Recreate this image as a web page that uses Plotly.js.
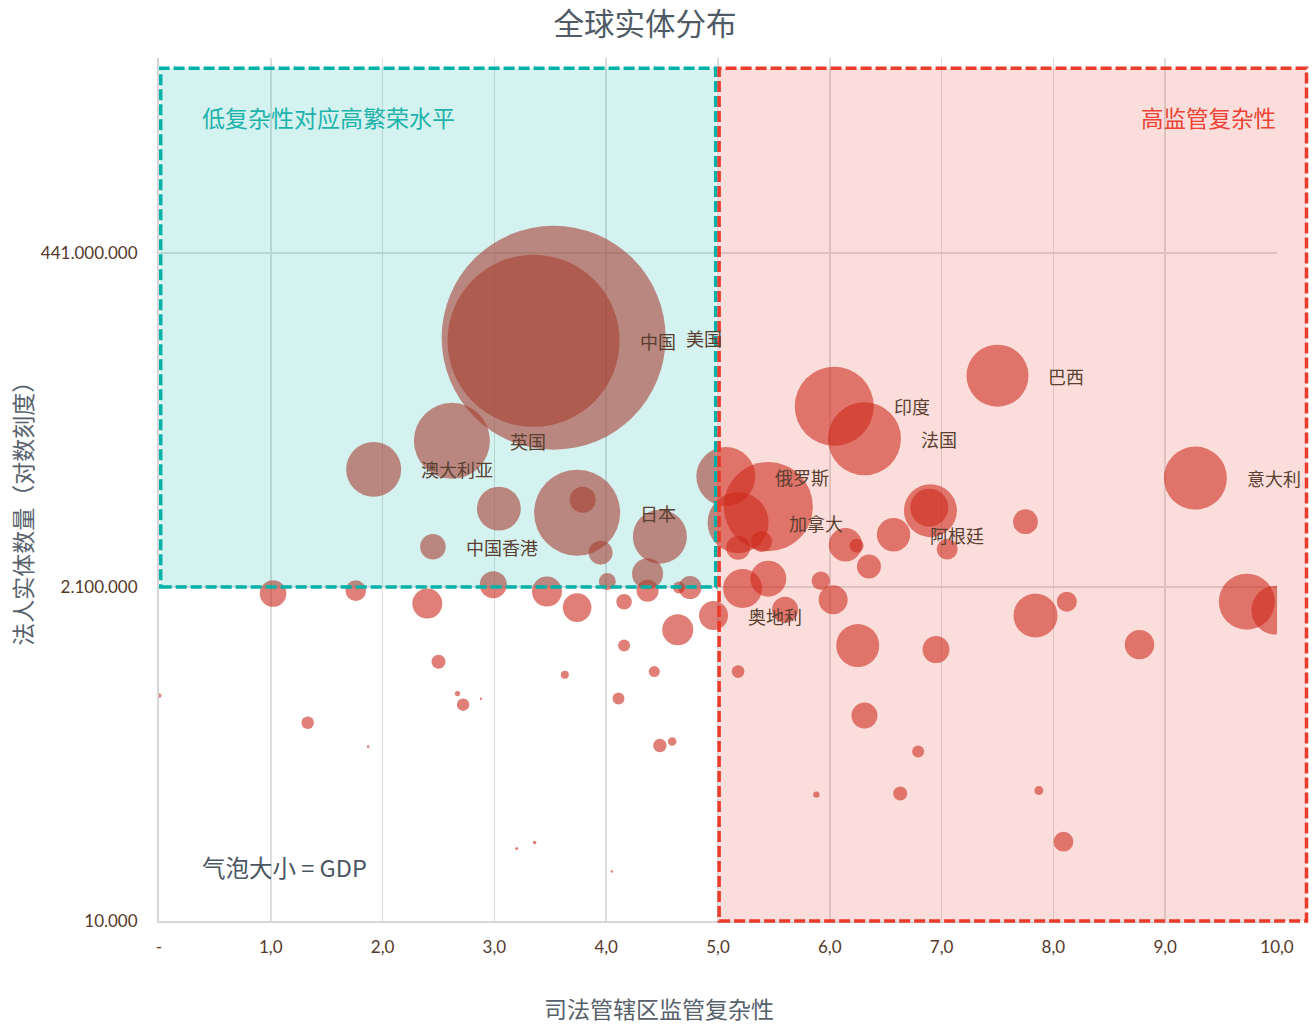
<!DOCTYPE html>
<html>
<head>
<meta charset="utf-8">
<script src="https://cdn.plot.ly/plotly-3.0.1.min.js"></script>
<style>
  html, body { margin: 0; padding: 0; background: #ffffff; }
  #chart { width: 1315px; height: 1025px; }
</style>
</head>
<body>
<div id="chart"></div>
<script>
// ---- data ----
const labels = ['美国','中国','英国','澳大利亚','','日本','','','中国香港','','','','','','','','','','','','','奥地利',
  '俄罗斯','','加拿大','','','','','','阿根廷','','','','','','','','','','','','','','','','','意大利','巴西','印度','法国',
  '','','','','','','','','','','','','','','','','','','','','','','','',''];
const complexity = [3.53,3.35,2.62,1.92,3.04,3.74,3.79,4.48,2.45,3.95,4.37,4.37,4.01,2.99,3.47,3.74,2.40,4.16,4.64,4.65,4.75,4.96,
  5.07,5.45,5.18,5.18,5.39,6.14,6.24,6.35,6.57,6.90,6.89,7.05,7.75,5.45,5.22,5.92,6.03,5.60,6.25,6.95,7.84,8.12,8.77,9.73,9.99,9.27,7.50,6.04,6.31,
  5.18,6.31,6.79,6.63,5.88,7.87,8.09,1.02,1.76,2.50,0.00,2.67,2.72,2.88,1.33,1.87,3.63,4.43,4.11,4.16,4.48,4.59,3.20,3.36,4.05];
const entities = [113500000,108100000,21800000,13800000,7360000,6900000,8490000,4700000,4000000,3640000,2600000,1980000,2290000,2180000,1950000,1510000,1610000,1660000,1060000,2080000,2080000,1330000,
  12300000,7600000,5880000,3940000,4340000,4130000,4070000,2910000,4850000,7130000,7480000,3850000,5970000,2400000,2050000,2320000,1710000,1460000,822000,771000,1330000,1660000,834000,1660000,1450000,12000000,61800000,37900000,22500000,
  542000,268000,151000,77000,75700,80700,35600,1890000,1980000,635000,369000,381000,319000,351000,239000,163000,516000,542000,352000,822000,166000,177000,31900,35100,22100];
const gdp = [21070,12430,2430,1270,810,3110,284,1225,275,242,404,203,121,306,378,344,378,102,404,60,222,353,
  1462,3330,1563,242,185,469,82,242,469,1180,606,185,258,544,639,145,353,284,777,306,813,168,363,1317,1008,1667,1614,2621,2238,
  67,284,60,82,17,34,165,297,178,82,10,12,65,2.4,65,2.8,27,51,60,60,75,31,3.8,5.4,2.4];

const xTickVals = [0,1,2,3,4,5,6,7,8,9,10];
const xTickText = ['-','1,0','2,0','3,0','4,0','5,0','6,0','7,0','8,0','9,0','10,0'];
const yTickVals = [10000, 2100000, 441000000];
const yTickText = ['10.000','2.100.000','441.000.000'];

const sizeRef = 0.84;
const fontFam = 'Lato, "Noto Sans CJK SC", sans-serif';
const cjkFam = '"Noto Sans CJK SC", Lato, sans-serif';

const trace = {
  type: 'scatter',
  mode: 'markers',
  x: complexity,
  y: entities,
  text: labels,
  hoverinfo: 'text',
  marker: {
    size: gdp,
    sizemode: 'area',
    sizeref: sizeRef,
    sizemin: 0,
    color: 'rgba(200,38,24,0.84)',
    line: { width: 0 }
  }
};

// country labels placed to the right of each bubble
const labelAnns = [];
labels.forEach((t, i) => {
  if (!t) return;
  const r = Math.sqrt(2 * gdp[i] / sizeRef) / 2;
  labelAnns.push({
    x: complexity[i], y: Math.log10(entities[i]), xref: 'x', yref: 'y',
    text: t, showarrow: false, xanchor: 'left', yanchor: 'middle',
    xshift: r + 18,
    font: { family: cjkFam, size: 18, color: '#5a3f30' }
  });
});

const otherAnns = [
  { xref: 'paper', yref: 'paper', x: 0.0367, y: 0.9317, xanchor: 'left', yanchor: 'middle', showarrow: false,
    text: '低复杂性对应高繁荣水平', font: { family: cjkFam, size: 23, color: '#1db3ab' } },
  { xref: 'paper', yref: 'paper', x: 1.0009, y: 0.9317, xanchor: 'right', yanchor: 'middle', showarrow: false,
    text: '高监管复杂性', font: { family: cjkFam, size: 22.5, color: '#ec4336' } },
  { xref: 'paper', yref: 'paper', x: 0.0367, y: 0.062, xanchor: 'left', yanchor: 'middle', showarrow: false,
    text: '气泡大小 = GDP', font: { family: cjkFam, size: 23.5, color: '#4a5663' } },
  { xref: 'paper', yref: 'paper', x: 0.447, y: -0.1013, xanchor: 'center', yanchor: 'middle', showarrow: false,
    text: '司法管辖区监管复杂性', font: { family: cjkFam, size: 23, color: '#56616c' } },
  { xref: 'paper', yref: 'paper', x: -0.1225, y: 0.479, xanchor: 'center', yanchor: 'middle', showarrow: false,
    textangle: -90, text: '法人实体数量（对数刻度）', font: { family: cjkFam, size: 23, color: '#56616c' } }
];

const layout = {
  width: 1315, height: 1025,
  margin: { l: 159, r: 38, t: 58, b: 103.5 },
  paper_bgcolor: '#ffffff', plot_bgcolor: '#ffffff',
  showlegend: false,
  font: { family: fontFam, color: '#5a3d2b' },
  title: {
    text: '全球实体分布', xref: 'container', yref: 'container', x: 0.4905, y: 0.976,
    xanchor: 'center', yanchor: 'middle',
    font: { family: cjkFam, size: 30.5, color: '#4f5b66' }
  },
  xaxis: {
    range: [0, 10], tickvals: xTickVals, ticktext: xTickText,
    showgrid: true, gridcolor: '#dcdcdc', gridwidth: 1.5,
    zeroline: false, showline: true, linecolor: '#d6d6d6', linewidth: 2,
    ticks: '', ticklabelstandoff: 10,
    tickfont: { family: fontFam, size: 17, color: '#55392a' }
  },
  yaxis: {
    type: 'log', range: [4, 10], tickvals: yTickVals, ticktext: yTickText,
    showgrid: true, gridcolor: '#dcdcdc', gridwidth: 1.5,
    zeroline: false, showline: true, linecolor: '#d6d6d6', linewidth: 2,
    ticks: '', ticklabelstandoff: 16,
    tickfont: { family: fontFam, size: 17, color: '#55392a' }
  },
  shapes: [
    { type: 'rect', xref: 'x', yref: 'y', x0: 0.015, x1: 4.98, y0: 2100000, y1: 8.49e9,
      layer: 'above', fillcolor: 'rgba(0,178,169,0.17)',
      line: { color: '#00b1a8', width: 3.5, dash: '11px,4px' } },
    { type: 'rect', xref: 'paper', yref: 'paper', x0: 0.501, x1: 1.0264, y0: 0, y1: 0.988,
      layer: 'above', fillcolor: 'rgba(232,57,43,0.17)',
      line: { color: '#ec3a2b', width: 3.5, dash: '11px,4px' } }
  ],
  annotations: otherAnns.concat(labelAnns)
};

Plotly.newPlot('chart', [trace], layout, { displayModeBar: false, staticPlot: true });
</script>
</body>
</html>
